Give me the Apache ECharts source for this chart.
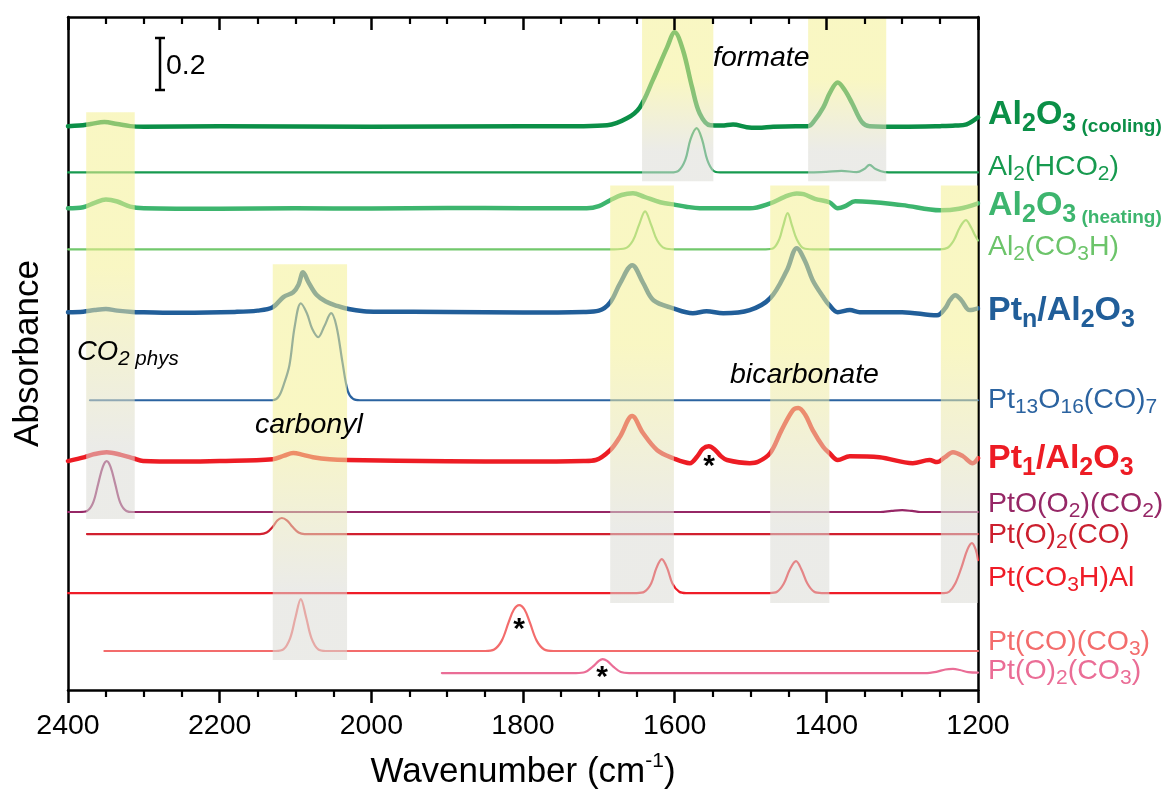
<!DOCTYPE html>
<html>
<head>
<meta charset="utf-8">
<title>IR spectra</title>
<script src="https://cdn.jsdelivr.net/npm/echarts@6/dist/echarts.min.js"></script>
<style>
  html, body { margin: 0; padding: 0; background: #fff; }
  #main { width: 1173px; height: 792px; }
</style>
</head>
<body>
<div id="main"></div>
<script>
// spectra: [wavenumber, absorbance incl. stacking offset]
const al2o3Cooling = [[2400, 2.17], [2385, 2.172], [2370, 2.178], [2352, 2.186], [2335, 2.178], [2318, 2.17], [2300, 2.168], [2200, 2.17], [2000, 2.168], [1800, 2.17], [1720, 2.17], [1689, 2.173], [1663, 2.2], [1646, 2.242], [1629, 2.346], [1610, 2.473], [1600, 2.531], [1589, 2.462], [1577, 2.319], [1567, 2.219], [1553, 2.173], [1538, 2.172], [1523, 2.176], [1505, 2.166], [1490, 2.164], [1470, 2.168], [1440, 2.17], [1424, 2.17], [1416, 2.19], [1404, 2.242], [1395, 2.3], [1385, 2.338], [1376, 2.31], [1366, 2.258], [1353, 2.185], [1343, 2.17], [1300, 2.168], [1250, 2.17], [1230, 2.172], [1215, 2.177], [1200, 2.204]];
const al2Hco2 = [[2400, 1.992], [2000, 1.992], [1700, 1.992], [1605, 1.992], [1595, 1.998], [1586, 2.04], [1579, 2.12], [1571, 2.162], [1564, 2.12], [1557, 2.04], [1549, 1.998], [1540, 1.992], [1420, 1.992], [1400, 1.994], [1380, 1.998], [1360, 1.993], [1350, 2.005], [1343, 2.021], [1335, 2.005], [1323, 1.993], [1310, 1.992], [1200, 1.992]];
const al2o3Heating = [[2400, 1.854], [2380, 1.858], [2365, 1.875], [2350, 1.888], [2335, 1.88], [2318, 1.86], [2300, 1.854], [2200, 1.852], [2100, 1.854], [2000, 1.853], [1900, 1.855], [1800, 1.854], [1716, 1.854], [1700, 1.862], [1685, 1.885], [1670, 1.905], [1655, 1.912], [1640, 1.898], [1619, 1.877], [1602, 1.869], [1585, 1.86], [1567, 1.854], [1501, 1.854], [1474, 1.873], [1455, 1.898], [1439, 1.911], [1430, 1.908], [1415, 1.89], [1396, 1.877], [1385, 1.854], [1375, 1.862], [1362, 1.881], [1300, 1.866], [1250, 1.846], [1225, 1.852], [1200, 1.873]];
const al2Co3h = [[2400, 1.696], [2000, 1.696], [1680, 1.696], [1665, 1.7], [1655, 1.73], [1647, 1.79], [1639, 1.842], [1631, 1.79], [1623, 1.73], [1613, 1.7], [1600, 1.696], [1480, 1.696], [1470, 1.7], [1462, 1.735], [1457, 1.785], [1451, 1.835], [1445, 1.785], [1439, 1.735], [1430, 1.7], [1418, 1.696], [1250, 1.696], [1240, 1.702], [1232, 1.73], [1224, 1.78], [1216, 1.808], [1209, 1.78], [1204, 1.75], [1200, 1.73]];
const ptnAl2o3 = [[2400, 1.454], [2380, 1.456], [2365, 1.462], [2350, 1.466], [2335, 1.46], [2315, 1.455], [2300, 1.454], [2250, 1.452], [2180, 1.455], [2150, 1.46], [2130, 1.473], [2116, 1.512], [2103, 1.531], [2096, 1.56], [2090, 1.608], [2083, 1.57], [2072, 1.52], [2060, 1.495], [2045, 1.478], [2030, 1.466], [2010, 1.458], [1990, 1.456], [1900, 1.455], [1800, 1.453], [1720, 1.455], [1700, 1.46], [1685, 1.492], [1672, 1.565], [1656, 1.635], [1642, 1.569], [1628, 1.5], [1602, 1.469], [1576, 1.45], [1558, 1.458], [1536, 1.45], [1501, 1.462], [1474, 1.508], [1452, 1.615], [1439, 1.7], [1428, 1.65], [1418, 1.577], [1404, 1.512], [1396, 1.481], [1385, 1.454], [1369, 1.462], [1356, 1.454], [1300, 1.454], [1254, 1.442], [1243, 1.47], [1237, 1.5], [1230, 1.519], [1222, 1.5], [1211, 1.462], [1200, 1.469]];
const pt13o16co7 = [[2371, 1.115], [2200, 1.115], [2130, 1.115], [2122, 1.13], [2115, 1.18], [2108, 1.25], [2101, 1.4], [2093, 1.488], [2085, 1.45], [2078, 1.39], [2070, 1.358], [2062, 1.4], [2053, 1.45], [2046, 1.4], [2038, 1.26], [2031, 1.15], [2024, 1.12], [2015, 1.115], [1800, 1.115], [1200, 1.115]];
const pt1Al2o3 = [[2400, 0.881], [2378, 0.896], [2365, 0.908], [2349, 0.915], [2330, 0.905], [2314, 0.892], [2301, 0.881], [2250, 0.879], [2200, 0.881], [2130, 0.888], [2115, 0.902], [2103, 0.912], [2090, 0.905], [2077, 0.896], [2055, 0.888], [2032, 0.885], [1900, 0.88], [1800, 0.879], [1720, 0.881], [1704, 0.885], [1685, 0.923], [1672, 0.975], [1656, 1.054], [1642, 0.99], [1623, 0.923], [1602, 0.892], [1580, 0.873], [1570, 0.9], [1563, 0.928], [1555, 0.938], [1547, 0.925], [1539, 0.9], [1531, 0.885], [1501, 0.873], [1490, 0.878], [1474, 0.912], [1459, 1.0], [1444, 1.077], [1437, 1.085], [1428, 1.06], [1418, 1.0], [1404, 0.935], [1396, 0.912], [1385, 0.885], [1369, 0.9], [1330, 0.896], [1286, 0.873], [1264, 0.885], [1254, 0.877], [1244, 0.895], [1233, 0.915], [1220, 0.9], [1207, 0.873], [1200, 0.892]];
const ptOO2Co2 = [[2400, 0.685], [2385, 0.685], [2375, 0.689], [2367, 0.72], [2360, 0.796], [2354, 0.86], [2349, 0.881], [2344, 0.86], [2338, 0.796], [2331, 0.72], [2323, 0.689], [2314, 0.685], [2000, 0.685], [1500, 0.685], [1329, 0.685], [1314, 0.689], [1300, 0.692], [1287, 0.689], [1276, 0.685], [1200, 0.685]];
const ptO2Co = [[2375, 0.6], [2200, 0.6], [2147, 0.6], [2138, 0.606], [2130, 0.628], [2124, 0.652], [2118, 0.662], [2111, 0.652], [2104, 0.628], [2096, 0.606], [2088, 0.6], [1800, 0.6], [1200, 0.6]];
const ptCo3hAl = [[2400, 0.373], [2000, 0.373], [1650, 0.373], [1640, 0.378], [1631, 0.41], [1624, 0.47], [1617, 0.504], [1610, 0.47], [1603, 0.41], [1594, 0.378], [1585, 0.373], [1475, 0.373], [1465, 0.378], [1456, 0.41], [1448, 0.465], [1440, 0.496], [1433, 0.465], [1425, 0.41], [1416, 0.378], [1406, 0.373], [1245, 0.373], [1238, 0.378], [1230, 0.41], [1222, 0.47], [1214, 0.54], [1208, 0.565], [1203, 0.54], [1200, 0.5]];
const ptCoCo3 = [[2352, 0.15], [2200, 0.15], [2126, 0.15], [2116, 0.156], [2107, 0.2], [2100, 0.28], [2093, 0.35], [2086, 0.28], [2079, 0.2], [2070, 0.156], [2060, 0.15], [1850, 0.15], [1838, 0.156], [1828, 0.19], [1819, 0.26], [1812, 0.31], [1805, 0.327], [1798, 0.31], [1791, 0.26], [1782, 0.19], [1772, 0.156], [1760, 0.15], [1500, 0.15], [1200, 0.15]];
const ptO2Co3 = [[1907, 0.065], [1800, 0.065], [1730, 0.065], [1718, 0.069], [1708, 0.09], [1700, 0.112], [1695, 0.119], [1689, 0.112], [1681, 0.09], [1671, 0.069], [1660, 0.065], [1400, 0.065], [1270, 0.065], [1255, 0.07], [1243, 0.079], [1233, 0.081], [1224, 0.077], [1213, 0.069], [1200, 0.067]];

// highlighted bands: [wavenumber from, wavenumber to, top, bottom]
const bandSpans = [
  [2376, 2312, 2.223, 0.658],
  [2130, 2032, 1.638, 0.115],
  [1685, 1601, 1.942, 0.335],
  [1643, 1549, 2.59, 1.958],
  [1474, 1396, 1.942, 0.335],
  [1424, 1321, 2.59, 1.958],
  [1249, 1200, 1.942, 0.335]
];

const FONT = '"Liberation Sans", Arial, Helvetica, sans-serif';
const THICK = 4.5, THIN = 2.2;

const spectra = [
  { data: al2o3Cooling, color: '#0b8f47', width: THICK },
  { data: al2Hco2, color: '#179a4f', width: THIN },
  { data: al2o3Heating, color: '#3db56e', width: THICK },
  { data: al2Co3h, color: '#72c86c', width: THIN },
  { data: ptnAl2o3, color: '#215e99', width: THICK },
  { data: pt13o16co7, color: '#2b63a0', width: THIN },
  { data: pt1Al2o3, color: '#ed1c24', width: THICK },
  { data: ptOO2Co2, color: '#962766', width: THIN },
  { data: ptO2Co, color: '#d1202f', width: THIN },
  { data: ptCo3hAl, color: '#ef1c27', width: THIN },
  { data: ptCoCo3, color: '#f36c6c', width: THIN },
  { data: ptO2Co3, color: '#ea6d96', width: THIN }
];

// rich text with subscripts (zrender style names)
function mkRich(F, S, color, weight, fstyle, d) {
  const L = Math.round(F * 1.25);
  const base = { fill: color, fontFamily: FONT, fontWeight: weight, fontStyle: fstyle };
  const low = (size, off) => Math.max(2, L - 0.7 * F - 2 * off + 0.7 * size);
  const cs = Math.round(F * 0.56);
  return {
    m: Object.assign({ fontSize: F, lineHeight: L }, base),
    s: Object.assign({ fontSize: S, lineHeight: low(S, d), verticalAlign: 'bottom' }, base),
    c: Object.assign({ fontSize: cs, lineHeight: low(cs, 2), verticalAlign: 'bottom' }, base)
  };
}
function richLabel(x, y, text, F, S, color, weight, fstyle, d) {
  return {
    type: 'text', x: x, y: y, z: 100, silent: true,
    style: {
      text: text, fill: color, fontSize: F, fontFamily: FONT,
      align: 'left', verticalAlign: 'middle',
      rich: mkRich(F, S, color, weight || 'normal', fstyle || 'normal', d)
    }
  };
}
function plainText(x, y, text, F, opts) {
  return {
    type: 'text', x: x, y: y, z: 100, silent: true,
    style: Object.assign({
      text: text, fill: '#000', fontSize: F, fontFamily: FONT,
      align: 'left', verticalAlign: 'middle'
    }, opts || {})
  };
}

const B = 'bold';
const rightLabels = [
  richLabel(988, 115, '{m|Al}{s|2}{m|O}{s|3}{c| (cooling)}', 34, 25, '#0b8f47', B, 'normal', 11),
  richLabel(988, 167, '{m|Al}{s|2}{m|(HCO}{s|2}{m|)}', 28.5, 21, '#179a4f', 'normal', 'normal', 9),
  richLabel(988, 206, '{m|Al}{s|2}{m|O}{s|3}{c| (heating)}', 34, 25, '#3db56e', B, 'normal', 11),
  richLabel(988, 247, '{m|Al}{s|2}{m|(CO}{s|3}{m|H)}', 28.5, 21, '#6cc46a', 'normal', 'normal', 9),
  richLabel(988, 311, '{m|Pt}{s|n}{m|/Al}{s|2}{m|O}{s|3}', 34, 25, '#215e99', B, 'normal', 11),
  richLabel(988, 400, '{m|Pt}{s|13}{m|O}{s|16}{m|(CO)}{s|7}', 28.5, 21, '#2b63a0', 'normal', 'normal', 9),
  richLabel(988, 459, '{m|Pt}{s|1}{m|/Al}{s|2}{m|O}{s|3}', 34, 25, '#ed1c24', B, 'normal', 11),
  richLabel(988, 504, '{m|PtO(O}{s|2}{m|)(CO}{s|2}{m|)}', 28.5, 21, '#962766', 'normal', 'normal', 9),
  richLabel(988, 535, '{m|Pt(O)}{s|2}{m|(CO)}', 28.5, 21, '#cc1f2e', 'normal', 'normal', 9),
  richLabel(988, 578, '{m|Pt(CO}{s|3}{m|H)Al}', 28.5, 21, '#ef1c27', 'normal', 'normal', 9),
  richLabel(988, 642, '{m|Pt(CO)(CO}{s|3}{m|)}', 28.5, 21, '#f36c6c', 'normal', 'normal', 9),
  richLabel(988, 671, '{m|Pt(O)}{s|2}{m|(CO}{s|3}{m|)}', 28.5, 21, '#ea6d96', 'normal', 'normal', 9)
];

const annotations = [
  plainText(713, 58, 'formate', 28.5, { fontStyle: 'italic' }),
  plainText(730, 375, 'bicarbonate', 28.5, { fontStyle: 'italic' }),
  plainText(255, 425, 'carbonyl', 28.5, { fontStyle: 'italic' }),
  richLabel(77, 352, '{m|CO}{s|2 phys}', 27.5, 20.5, '#000', 'normal', 'italic', 7),
  plainText(166, 66, '0.2', 28.5),
  plainText(709, 467, '*', 30, { align: 'center', fontWeight: 'bold' }),
  plainText(519, 630, '*', 30, { align: 'center', fontWeight: 'bold' }),
  plainText(602, 678, '*', 30, { align: 'center', fontWeight: 'bold' }),
  { type: 'line', silent: true, z: 100, shape: { x1: 160, y1: 38, x2: 160, y2: 90 }, style: { stroke: '#000', lineWidth: 2.5 } },
  { type: 'line', silent: true, z: 100, shape: { x1: 155, y1: 38, x2: 165, y2: 38 }, style: { stroke: '#000', lineWidth: 2.5 } },
  { type: 'line', silent: true, z: 100, shape: { x1: 155, y1: 90, x2: 165, y2: 90 }, style: { stroke: '#000', lineWidth: 2.5 } }
];

const axisLineStyle = { color: '#000', width: 2.5 };
const tickLine = { color: '#000', width: 2.5 };
const minorLine = { color: '#000', width: 2.2 };

const series = spectra.map(s => ({
  type: 'line',
  data: s.data,
  showSymbol: false,
  symbol: 'none',
  smooth: 0.35,
  silent: true,
  z: 2,
  lineStyle: { color: s.color, width: s.width, cap: 'round', join: 'round' }
}));

series.push({
  type: 'custom',
  data: bandSpans,
  silent: true,
  z: 5,
  encode: { x: [0, 1], y: [2, 3] },
  renderItem: function (params, api) {
    const p1 = api.coord([api.value(0), api.value(2)]);
    const p2 = api.coord([api.value(1), api.value(3)]);
    return {
      type: 'rect',
      shape: { x: Math.min(p1[0], p2[0]), y: p1[1], width: Math.abs(p2[0] - p1[0]), height: p2[1] - p1[1] },
      style: {
        fill: {
          type: 'linear', x: 0, y: 0, x2: 0, y2: 1,
          colorStops: [
            { offset: 0, color: 'rgba(244,240,146,0.55)' },
            { offset: 0.38, color: 'rgba(244,240,146,0.55)' },
            { offset: 0.82, color: 'rgba(219,219,213,0.55)' },
            { offset: 1, color: 'rgba(219,219,213,0.55)' }
          ]
        }
      }
    };
  }
});

const chart = echarts.init(document.getElementById('main'));
chart.setOption({
  animation: false,
  backgroundColor: '#fff',
  grid: { left: 68, right: 195, top: 17, bottom: 102, containLabel: false, outerBoundsMode: 'none' },
  xAxis: [
    {
      type: 'value', inverse: true, min: 1200, max: 2400, interval: 200,
      position: 'bottom', z: 10,
      splitLine: { show: false },
      axisLine: { show: true, onZero: false, lineStyle: axisLineStyle },
      axisTick: { show: true, inside: false, length: 13, lineStyle: tickLine },
      minorTick: { show: true, splitNumber: 4, length: 7, lineStyle: minorLine },
      axisLabel: {
        show: true, fontSize: 28.5, color: '#000', fontFamily: FONT, margin: 21, lineHeight: 30,
        formatter: v => String(v)
      },
      name: 'Wavenumber (cm{sup|-1})',
      nameLocation: 'middle',
      nameGap: 61,
      nameMoveOverlap: false,
      nameTextStyle: {
        fontSize: 35, color: '#000', fontFamily: FONT, lineHeight: 43,
        rich: { sup: { fontSize: 21, color: '#000', fontFamily: FONT, verticalAlign: 'top', lineHeight: 28 } }
      }
    },
    {
      type: 'value', inverse: true, min: 1200, max: 2400, interval: 200,
      position: 'top', z: 10,
      splitLine: { show: false },
      axisLine: { show: true, onZero: false, lineStyle: axisLineStyle },
      axisTick: { show: true, inside: true, length: 13, lineStyle: tickLine },
      minorTick: { show: true, splitNumber: 4, length: 7, lineStyle: minorLine },
      axisLabel: { show: true, color: 'rgba(0,0,0,0)', fontSize: 1, formatter: () => '' }
    }
  ],
  yAxis: [
    {
      type: 'value', min: 0, max: 2.59, position: 'left',
      splitLine: { show: false },
      axisLine: { show: true, onZero: false, lineStyle: axisLineStyle },
      axisTick: { show: false }, axisLabel: { show: false },
      name: 'Absorbance', nameLocation: 'middle', nameGap: 20, nameRotate: 90,
      nameMoveOverlap: false,
      nameTextStyle: { fontSize: 35, color: '#000', fontFamily: FONT, lineHeight: 40 }
    },
    {
      type: 'value', min: 0, max: 2.59, position: 'right',
      splitLine: { show: false },
      axisLine: { show: true, onZero: false, lineStyle: axisLineStyle },
      axisTick: { show: false }, axisLabel: { show: false }
    }
  ],
  series: series,
  graphic: rightLabels.concat(annotations)
});
</script>
</body>
</html>
